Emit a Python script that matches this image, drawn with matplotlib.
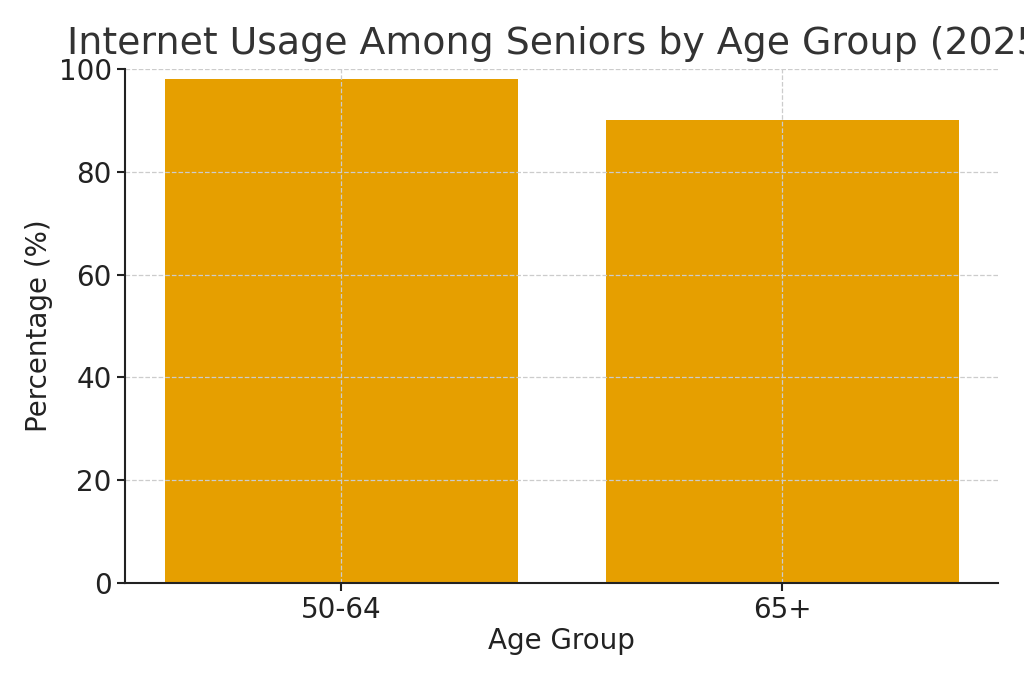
import matplotlib.pyplot as plt

# data
age_groups = ["50-64", "65+"]
usage_pct = [98, 90]

plt.rcParams['font.family'] = ['DejaVu Sans']

fig = plt.figure(figsize=(10.24, 6.83), dpi=100)
ax = fig.add_axes([0.122, 0.1464, 0.853, 0.7526])

ax.bar(age_groups, usage_pct, color="#E69F00", width=0.8)

ax.set_ylim(0, 100)
ax.set_yticks([0, 20, 40, 60, 80, 100])
ax.grid(True, linestyle="--", color="#cccccc", linewidth=0.9)

ax.spines["top"].set_visible(False)
ax.spines["right"].set_visible(False)
for s in ["left", "bottom"]:
    ax.spines[s].set_linewidth(1.5)
    ax.spines[s].set_color("#222222")

ax.tick_params(labelsize=20, colors="#222222", width=1.5, length=6)
ax.set_xlabel("Age Group", fontsize=20, color="#222222", labelpad=2)
ax.set_ylabel("Percentage (%)", fontsize=20, color="#222222", labelpad=4)

ax.set_title("Internet Usage Among Seniors by Age Group (2025)", fontsize=27.3,
             color="#333333", pad=11)

fig.savefig("out.png", dpi=100)
